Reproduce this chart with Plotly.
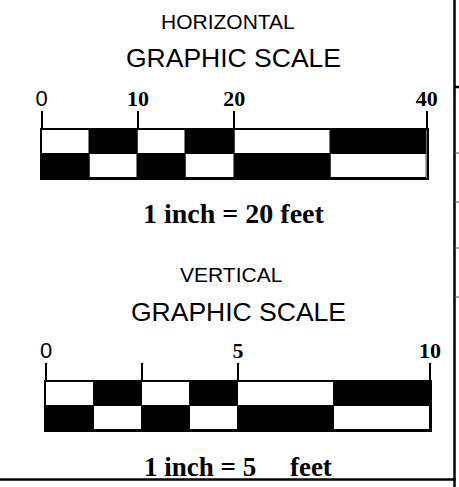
import plotly.graph_objects as go

# ---------------- data ----------------
H_EDGES = [0, 5, 10, 15, 20, 30, 40]          # feet, horizontal scale segment edges
H_TICKS = [0, 10, 20, 40]
H_TICK_LABELS = ["0", "10", "20", "40"]
H_TITLE = "HORIZONTAL"
H_NOTE = "1 inch = 20 feet"

V_EDGES = [0, 1.25, 2.5, 3.75, 5, 7.5, 10]     # feet, vertical scale segment edges
V_TICKS = [0, 2.5, 5, 10]
V_TICK_LABELS = ["0", "", "5", "10"]
V_TITLE = "VERTICAL"
V_NOTE = "1 inch = 5\u00a0\u00a0\u00a0\u00a0\u00a0feet"

SUBTITLE = "GRAPHIC SCALE"
ROWS = ["top", "bottom"]

W, H = 459, 487
SANS = "Liberation Sans, Arial, sans-serif"
SERIF = "Liberation Serif, Times New Roman, serif"


def px_x(p):
    return p / W


def px_y(p):
    return 1 - p / H


fig = go.Figure()


def add_scale(edges, xa, ya):
    starts = edges[:-1]
    widths = [b - a for a, b in zip(edges[:-1], edges[1:])]
    n = len(starts)
    top_colors = ["white" if i % 2 == 0 else "black" for i in range(n)]
    bot_colors = ["black" if i % 2 == 0 else "white" for i in range(n)]
    for row, cols in zip(ROWS, [top_colors, bot_colors]):
        fig.add_trace(go.Bar(
            orientation="h", y=[row] * n, x=widths, base=starts, width=1,
            marker=dict(color=cols, line=dict(color="black", width=1)),
            xaxis=xa, yaxis=ya, showlegend=False, hoverinfo="skip"))


add_scale(H_EDGES, "x", "y")
add_scale(V_EDGES, "x2", "y2")


def ticktexts(labels):
    # first label in plain sans-serif, the others in bold serif
    out = []
    for i, t in enumerate(labels):
        if i == 0:
            out.append(t)
        else:
            out.append('<span style="font-family:\'Liberation Serif\',serif;font-weight:bold;font-size:22px">%s</span>' % t)
    return out


def xaxis_cfg(dom, rng, ticks, labels):
    return dict(domain=dom, range=rng, side="top", showline=True, mirror=True,
                linecolor="black", linewidth=2, ticks="outside", ticklen=17,
                tickwidth=2, tickcolor="black", tickvals=ticks,
                ticktext=ticktexts(labels), showgrid=False, zeroline=False,
                tickfont=dict(family=SANS, size=22, color="black"),
                ticklabelstandoff=-4, automargin=False, fixedrange=True)


def yaxis_cfg(dom, anchor):
    return dict(domain=dom, range=[-0.5, 1.5], type="category",
                categoryorder="array", categoryarray=["bottom", "top"],
                showline=True, mirror=True, linecolor="black", linewidth=2,
                ticks="", showticklabels=False, showgrid=False,
                zeroline=False, anchor=anchor, automargin=False, fixedrange=True)


fig.update_layout(
    width=W, height=H, autosize=False,
    margin=dict(l=0, r=0, t=0, b=0, pad=0, autoexpand=False),
    paper_bgcolor="white", plot_bgcolor="white",
    barmode="overlay", bargap=0,
    xaxis=xaxis_cfg([px_x(41.7), px_x(426.7)], [0, H_EDGES[-1]], H_TICKS, H_TICK_LABELS) | dict(anchor="y"),
    yaxis=yaxis_cfg([px_y(178), px_y(130)], "x"),
    xaxis2=xaxis_cfg([px_x(46), px_x(430)], [0, V_EDGES[-1]], V_TICKS, V_TICK_LABELS) | dict(anchor="y2"),
    yaxis2=yaxis_cfg([px_y(430), px_y(382)], "x2"),
)


def note(text, x, y, fam, size, bold=False):
    fig.add_annotation(text=("<b>%s</b>" % text) if bold else text,
                       x=px_x(x), y=px_y(y), xref="paper", yref="paper",
                       showarrow=False, xanchor="center", yanchor="middle",
                       font=dict(family=fam, size=size, color="black"))


note(H_TITLE, 228, 21, SANS, 21)
note(SUBTITLE, 234, 58, SANS, 26.5)
note(H_NOTE, 234, 214, SERIF, 28, bold=True)
note(V_TITLE, 231, 274, SANS, 21)
note(SUBTITLE, 238, 312, SANS, 26.5)
note(V_NOTE, 238, 467, SERIF, 27, bold=True)

# page frame on the right and bottom
shapes = [
    dict(type="line", xref="paper", yref="paper", x0=px_x(454.5), x1=px_x(454.5),
         y0=0, y1=1, line=dict(color="black", width=2.5)),
    dict(type="line", xref="paper", yref="paper", x0=0, x1=px_x(455.5),
         y0=px_y(479.5), y1=px_y(479.5), line=dict(color="black", width=2.5)),
]
for yy, wd, col in [(87, 2.5, "black"), (153, 1, "#555"), (202, 1, "#555"),
                    (248, 1, "#555"), (297, 1, "#555")]:
    shapes.append(dict(type="line", xref="paper", yref="paper", x0=px_x(454.5),
                       x1=1, y0=px_y(yy), y1=px_y(yy), line=dict(color=col, width=wd)))
fig.update_layout(shapes=shapes)

fig.write_html("out.html", config={"displayModeBar": False, "responsive": False})

# remove the default page margin so the 459x487 figure fills the window exactly
with open("out.html", encoding="utf-8") as f:
    html = f.read()
html = html.replace("<body>", '<body style="margin:0;padding:0;overflow:hidden">', 1)
with open("out.html", "w", encoding="utf-8") as f:
    f.write(html)
